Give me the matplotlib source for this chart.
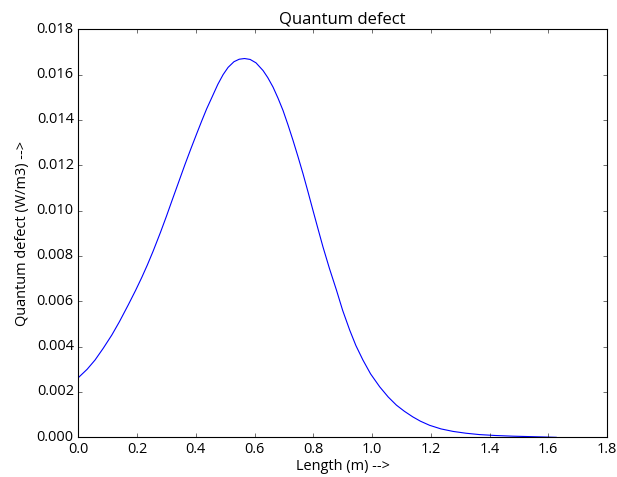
import matplotlib
matplotlib.use("Agg")
import matplotlib.pyplot as plt

length_m = [0.000, 0.030, 0.057, 0.085, 0.114, 0.140, 0.170, 0.195, 0.216, 0.235,
            0.255, 0.280, 0.300, 0.320, 0.340, 0.363, 0.383, 0.403, 0.420, 0.437,
            0.455, 0.475, 0.493, 0.510, 0.530, 0.548, 0.566, 0.585, 0.605, 0.629,
            0.645, 0.663, 0.680, 0.697, 0.714, 0.731, 0.748, 0.765, 0.782, 0.799,
            0.816, 0.833, 0.855, 0.879, 0.900, 0.924, 0.945, 0.969, 0.995, 1.026,
            1.055, 1.083, 1.110, 1.139, 1.165, 1.196, 1.235, 1.276, 1.320, 1.366,
            1.420, 1.480, 1.540, 1.600, 1.627]
quantum_defect = [0.00263, 0.00300, 0.00341, 0.00393, 0.00451, 0.00510, 0.00584, 0.00648, 0.00705, 0.00760,
                  0.00822, 0.00905, 0.00975, 0.01048, 0.01120, 0.01203, 0.01272, 0.01339, 0.01395, 0.01449,
                  0.01500, 0.01557, 0.01600, 0.01632, 0.01657, 0.01668, 0.01671, 0.01667, 0.01652, 0.01618,
                  0.01587, 0.01545, 0.01496, 0.01442, 0.01378, 0.01310, 0.01238, 0.01163, 0.01083, 0.01001,
                  0.00920, 0.00840, 0.00745, 0.00649, 0.00560, 0.00473, 0.00405, 0.00341, 0.00280, 0.00223,
                  0.00178, 0.00142, 0.00115, 0.00090, 0.00071, 0.00053, 0.00037, 0.00026, 0.00018, 0.00012,
                  0.00008, 0.00005, 0.00003, 0.00001, 0.00000]

x_ticks = [0.0, 0.2, 0.4, 0.6, 0.8, 1.0, 1.2, 1.4, 1.6, 1.8]
y_ticks = [0.000, 0.002, 0.004, 0.006, 0.008, 0.010, 0.012, 0.014, 0.016, 0.018]

plt.style.use('classic')
plt.rcParams['font.family'] = ['Open Sans', 'DejaVu Sans']
fig = plt.figure(figsize=(617 / 80, 477 / 80), dpi=80, facecolor='white')
ax = fig.add_axes([0.1269, 0.0832, 0.8569, 0.8554])
ax.plot(length_m, quantum_defect, color='b', linewidth=1.0)
ax.set_xlim(0, 1.8)
ax.set_ylim(0, 0.018)
ax.set_xticks(x_ticks)
ax.set_yticks(y_ticks)
ax.set_xticklabels([f"{v:.1f}" for v in x_ticks])
ax.set_yticklabels([f"{v:.3f}" for v in y_ticks])
ax.set_title("Quantum defect", fontsize=15, pad=5)
ax.set_xlabel("Length (m) -->", fontsize=13, labelpad=2)
ax.set_ylabel("Quantum defect (W/m3) -->", fontsize=13, labelpad=6)
ax.tick_params(labelsize=13)
fig.savefig("out.png", dpi=80, facecolor='white')
